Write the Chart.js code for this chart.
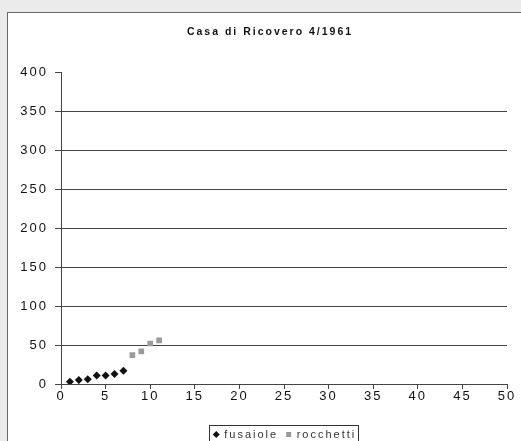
<!DOCTYPE html>
<html>
<head>
<meta charset="utf-8">
<script src="https://cdn.jsdelivr.net/npm/chart.js@4/dist/chart.umd.min.js"></script>
<style>
html,body{margin:0;padding:0;background:#ebebeb;overflow:hidden;width:521px;height:441px;}
#frame{position:absolute;left:7px;top:12px;width:560px;height:460px;background:#fff;border-left:1px solid #666;border-top:1px solid #666;}
#c{position:absolute;left:0;top:0;}
</style>
</head>
<body>
<div id="frame"><canvas id="c" width="530" height="437"></canvas></div>
<script>
// Casa di Ricovero 4/1961 - fusaiole / rocchetti
const titleText="Casa di Ricovero 4/1961";

const fusaioleX=[1,2,3,4,5,6,7];
const fusaioleY=[3,5,6,11,11,13,17];

const rocchettiX=[8,9,10,11];
const rocchettiY=[37,42,52,56];

const xTicks={min:0,max:50,step:5};
const yTicks={min:0,max:400,step:50};

function toPoints(xs,ys){
  return xs.map((x,i)=>({x:x,y:ys[i]}));
}

const lineCol="#444";

// letter spacing, y label room, legend shift + box
const spacingPlugin={
  id:"spacing",
  beforeUpdate(chart){
    chart.ctx.letterSpacing="2px";
  },
  afterLayout(chart){
    chart.scales.y.left=0;
    chart.legend.left+=15;
    chart.legend.right+=15;
  },
  beforeDraw(chart){
    chart.ctx.letterSpacing="2px";
  },
  afterDraw(chart){
    const ctx=chart.ctx;
    const boxes=chart.legend.legendHitBoxes;
    if(!boxes||!boxes.length)return;
    let l=Infinity,r=-Infinity,t=Infinity;
    boxes.forEach(b=>{
      l=Math.min(l,b.left);
      r=Math.max(r,b.left+b.width);
      t=Math.min(t,b.top);
    });
    ctx.save();
    ctx.strokeStyle="#333";
    ctx.lineWidth=1;
    ctx.strokeRect(Math.round(l)-4.5,Math.round(t)-3.5,Math.round(r-l)+7,40);
    ctx.restore();
  }
};

new Chart(document.getElementById("c"),{
  type:"scatter",
  data:{
    datasets:[
      {
        label:"fusaiole",
        data:toPoints(fusaioleX,fusaioleY),
        pointStyle:"rectRot",
        pointRadius:4,
        backgroundColor:"#111",
        borderColor:"#111",
        borderWidth:0
      },
      {
        label:"rocchetti",
        data:toPoints(rocchettiX,rocchettiY),
        pointStyle:"rect",
        pointRadius:4,
        backgroundColor:"#9a9a9a",
        borderColor:"#9a9a9a",
        borderWidth:0
      }
    ]
  },
  options:{
    responsive:false,
    animation:false,
    events:[],
    layout:{padding:{left:25,right:31,top:0,bottom:0}},
    plugins:{
      title:{
        display:true,
        text:titleText,
        color:"#111",
        font:{family:"Liberation Sans",size:10.5,weight:"bold",lineHeight:1.2},
        padding:{top:13,bottom:34}
      },
      legend:{
        display:true,
        position:"bottom",
        labels:{
          usePointStyle:true,
          boxWidth:5,
          boxHeight:5,
          padding:8,
          color:"#333",
          font:{family:"Liberation Sans",size:11}
        }
      },
      tooltip:{enabled:false}
    },
    scales:{
      x:{
        type:"linear",
        min:xTicks.min,
        max:xTicks.max,
        afterFit(s){s.height=37;},
        ticks:{
          stepSize:xTicks.step,
          color:"#111",
          padding:0,
          maxRotation:0,
          font:{family:"Liberation Sans",size:13}
        },
        grid:{
          drawOnChartArea:false,
          drawTicks:true,
          tickLength:5,
          tickColor:lineCol
        },
        border:{display:true,color:lineCol,width:1}
      },
      y:{
        type:"linear",
        min:yTicks.min,
        max:yTicks.max,
        afterFit(s){s.width=28;},
        ticks:{
          stepSize:yTicks.step,
          color:"#111",
          padding:7,
          font:{family:"Liberation Sans",size:13}
        },
        grid:{
          color:(c)=>c.tick&&c.tick.value===yTicks.max?"rgba(0,0,0,0)":lineCol,
          tickColor:lineCol,
          tickLength:6,
          drawTicks:true
        },
        border:{display:true,color:lineCol,width:1}
      }
    }
  },
  plugins:[spacingPlugin]
});
</script>
</body>
</html>
